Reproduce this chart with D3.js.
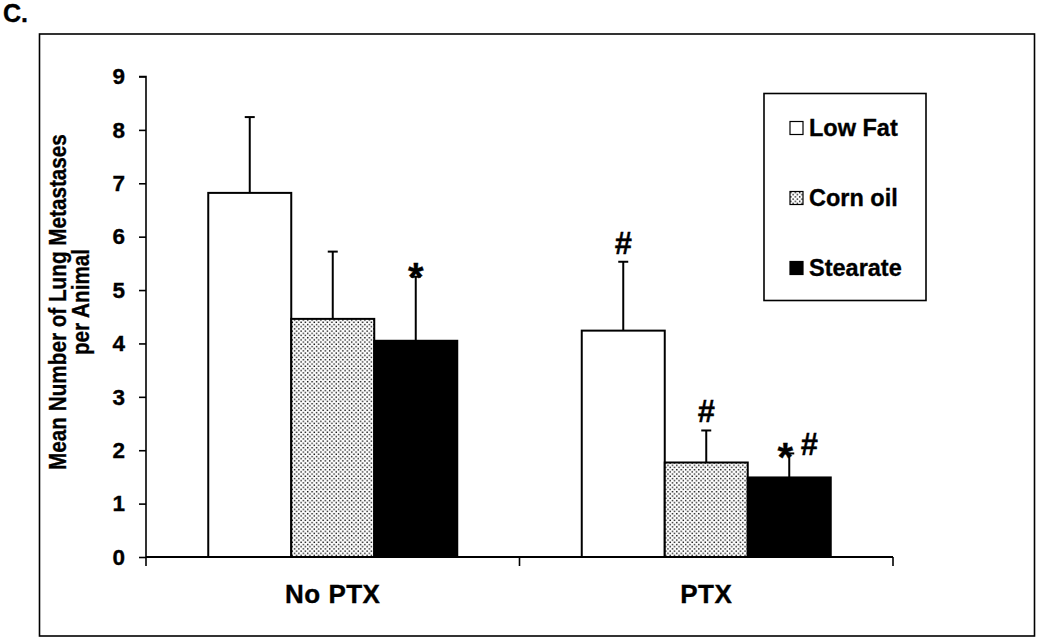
<!DOCTYPE html>
<html>
<head>
<meta charset="utf-8">
<script src="https://cdn.jsdelivr.net/npm/d3@7"></script>
<style>
  html, body { margin: 0; padding: 0; background: #fff; }
  svg { display: block; font-family: "Liberation Sans", Arial, sans-serif; }
  text { stroke: #000; stroke-width: 0.35px; }
</style>
</head>
<body>
<svg id="chart" width="1050" height="641"></svg>
<script>
// ---- data ----
const categories = ["No PTX", "PTX"];
const series = ["Low Fat", "Corn oil", "Stearate"];
const meanValues = [
  [6.82, 4.46, 4.05],   // No PTX
  [4.24, 1.77, 1.49]    // PTX
];
const errorTops = [
  [8.24, 5.72, 5.25],
  [5.53, 2.37, 1.94]
];
const annotations = [
  ["", "", "*"],
  ["#", "#", "*#"]
];
const yTicks = [0, 1, 2, 3, 4, 5, 6, 7, 8, 9];
const panelLabel = "C.";
const yTitleLines = ["Mean Number of Lung Metastases", "per Animal"];

// ---- drawing ----
const svg = d3.select("#chart");
const defs = svg.append("defs");
const pat = defs.append("pattern")
  .attr("id", "dots").attr("patternUnits", "userSpaceOnUse")
  .attr("width", 4.4).attr("height", 4.4);
pat.append("rect").attr("width", 4.4).attr("height", 4.4).attr("fill", "#fff");
pat.append("rect").attr("x", 0.4).attr("y", 0.4).attr("width", 1.4).attr("height", 1.4).attr("fill", "#111");
pat.append("rect").attr("x", 2.6).attr("y", 2.6).attr("width", 1.4).attr("height", 1.4).attr("fill", "#111");

const fills = { "Low Fat": "#fff", "Corn oil": "url(#dots)", "Stearate": "#000" };

// outer frame
svg.append("rect").attr("x", 39.5).attr("y", 34).attr("width", 995).attr("height", 602)
  .attr("fill", "none").attr("stroke", "#000").attr("stroke-width", 1.6);

svg.append("text").attr("x", 3).attr("y", 22).attr("font-size", 25).attr("font-weight", "bold")
  .text(panelLabel);

const x0 = d3.scaleBand().domain(categories).range([146, 893]).paddingInner(0).paddingOuter(0);
const x1 = d3.scaleBand().domain(series).range([0, x0.bandwidth()]).paddingInner(0).paddingOuter(0.75);
const y = d3.scaleLinear().domain([0, 9]).range([557, 76.5]);

// y axis
const yAxis = d3.axisLeft(y).tickValues(yTicks).tickSize(7).tickPadding(14).tickFormat(d3.format("d"));
const gy = svg.append("g").attr("transform", "translate(146,0)").call(yAxis);
gy.select(".domain").attr("stroke", "#000").attr("stroke-width", 1.6).attr("d", `M-7,${y(9)}H0V${y(0)}`);
gy.selectAll(".tick line").attr("stroke", "#000").attr("stroke-width", 1.6);
gy.selectAll(".tick text").attr("font-size", 22.5).attr("font-weight", "bold").attr("fill", "#000")
  .attr("font-family", "Liberation Sans, Arial, sans-serif");

// bars
const groups = svg.append("g").selectAll("g").data(categories).join("g")
  .attr("transform", d => `translate(${x0(d)},0)`);

groups.each(function(cat, ci) {
  const g = d3.select(this);
  series.forEach((s, si) => {
    const v = meanValues[ci][si];
    const bx = x1(s);
    const bw = x1.bandwidth();
    g.append("rect").attr("x", bx).attr("y", y(v)).attr("width", bw).attr("height", y(0) - y(v))
      .attr("fill", fills[s]).attr("stroke", "#000").attr("stroke-width", 2);
    const cx = bx + bw / 2;
    const et = errorTops[ci][si];
    g.append("line").attr("x1", cx).attr("x2", cx).attr("y1", y(v)).attr("y2", y(et))
      .attr("stroke", "#000").attr("stroke-width", 2);
    g.append("line").attr("x1", cx - 5).attr("x2", cx + 5).attr("y1", y(et)).attr("y2", y(et))
      .attr("stroke", "#000").attr("stroke-width", 2);
    const ann = annotations[ci][si];
    if (ann) {
      if (ann === "*") {
        g.append("text").attr("x", cx).attr("text-anchor", "middle")
          .attr("font-weight", "bold").attr("font-size", 40)
          .attr("y", y(et) + 14).text("*");
      } else if (ann === "#") {
        g.append("text").attr("x", cx).attr("text-anchor", "middle")
          .attr("font-weight", "bold").attr("font-size", 31)
          .attr("y", y(et) - 8).text("#");
      } else {
        g.append("text").attr("x", cx - 4).attr("text-anchor", "middle")
          .attr("font-weight", "bold").attr("font-size", 40)
          .attr("y", y(et) + 18).text("*");
        g.append("text").attr("x", cx + 20).attr("text-anchor", "middle")
          .attr("font-weight", "bold").attr("font-size", 31)
          .attr("y", y(et) + 2).text("#");
      }
    }
  });
});

// x axis
const gx = svg.append("g").attr("transform", `translate(0,${y(0)})`);
gx.append("line").attr("x1", 146).attr("x2", 893).attr("stroke", "#000").attr("stroke-width", 2);
const xTickPos = [146, ...categories.map(c => x0(c) + x0.bandwidth())];
gx.selectAll("line.tk").data(xTickPos).join("line").attr("class", "tk")
  .attr("x1", d => d).attr("x2", d => d).attr("y1", 0).attr("y2", 9)
  .attr("stroke", "#000").attr("stroke-width", 1.6);
gx.selectAll("text").data(categories).join("text")
  .attr("x", d => x0(d) + x0.bandwidth() / 2).attr("y", 46)
  .attr("text-anchor", "middle").attr("font-size", 26).attr("font-weight", "bold")
  .attr("letter-spacing", 0.5)
  .text(d => d);

// y title
const yt = svg.append("text").attr("transform", "translate(0,302) rotate(-90) scale(0.9,1)")
  .attr("text-anchor", "middle").attr("font-size", 23).attr("font-weight", "bold");
yTitleLines.forEach((l, i) => {
  yt.append("tspan").attr("x", 0).attr("y", 66 + i * 23).text(l);
});

// legend
const lg = svg.append("g");
lg.append("rect").attr("x", 764).attr("y", 93.5).attr("width", 162).attr("height", 207)
  .attr("fill", "#fff").attr("stroke", "#000").attr("stroke-width", 1.6);
const legendY = d3.scalePoint().domain(series).range([128, 268]);
series.forEach(s => {
  const cy = legendY(s);
  lg.append("rect").attr("x", 790).attr("y", cy - 6.5).attr("width", 13).attr("height", 13)
    .attr("fill", fills[s]).attr("stroke", "#000").attr("stroke-width", 1.2);
  lg.append("text").attr("x", 809).attr("y", cy + 8).attr("font-size", 23.5).attr("font-weight", "bold")
    .text(s);
});
</script>
</body>
</html>
